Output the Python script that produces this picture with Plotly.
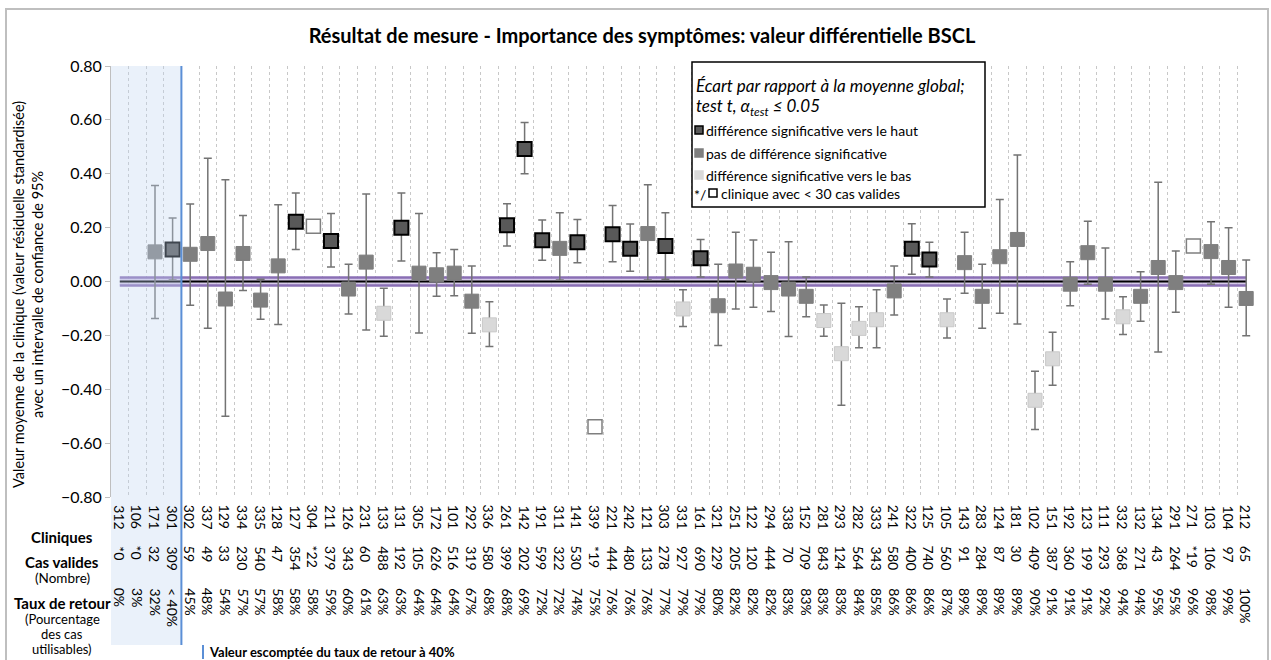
import plotly.graph_objects as go

# ---------------- data ----------------
clinics = ["312","106","171","301","302","337","129","334","335","128","127","304","211","126","231",
           "133","131","305","172","101","292","336","261","142","191","311","141","339","221","242",
           "121","303","331","161","321","251","122","294","338","152","281","293","282","333","241",
           "322","125","105","143","283","124","181","102","151","192","123","111","332","132","134",
           "291","271","103","104","212"]

cases = ["*0","*0","32","309","59","49","33","230","540","47","354","*22","379","343","60","488","192",
         "105","626","516","319","580","399","202","599","322","530","*19","444","480","133","278","927",
         "690","229","205","120","444","70","709","843","124","564","343","580","400","740","560","91",
         "284","87","30","409","387","360","199","293","368","271","43","264","*19","106","97","65"]

rates = ["0%","3%","32%","< 40%","45%","48%","54%","57%","57%","58%","58%","58%","59%","60%","61%",
         "63%","63%","64%","64%","64%","67%","68%","68%","69%","72%","72%","74%","75%","76%","76%",
         "76%","77%","79%","79%","80%","82%","82%","82%","83%","83%","83%","83%","84%","85%","86%",
         "86%","86%","87%","89%","89%","89%","89%","90%","91%","91%","91%","92%","94%","94%","95%",
         "95%","96%","98%","99%","100%"]

means = [None, None, 0.110, 0.119, 0.101, 0.141, -0.065, 0.104, -0.069, 0.058, 0.222, 0.205, 0.150,
         -0.028, 0.072, -0.118, 0.200, 0.031, 0.025, 0.031, -0.073, -0.161, 0.209, 0.492, 0.153,
         0.123, 0.146, -0.539, 0.175, 0.122, 0.178, 0.132, -0.102, 0.086, -0.090, 0.039, 0.027,
         -0.004, -0.028, -0.055, -0.145, -0.268, -0.174, -0.142, -0.035, 0.122, 0.082, -0.142,
         0.070, -0.055, 0.092, 0.156, -0.441, -0.287, -0.010, 0.107, -0.010, -0.131, -0.055,
         0.052, -0.004, 0.132, 0.111, 0.052, -0.063]

ci_upper = [None, None, 0.356, 0.236, 0.288, 0.458, 0.378, 0.245, 0.008, 0.285, 0.329, None, 0.252,
            0.064, 0.325, -0.025, 0.329, 0.252, 0.107, 0.119, 0.058, -0.075, 0.289, 0.590, 0.228,
            0.255, 0.230, None, 0.282, 0.213, 0.359, 0.255, -0.031, 0.156, 0.064, 0.183, 0.154,
            0.109, 0.148, 0.017, -0.087, -0.081, -0.094, -0.031, 0.058, 0.214, 0.146, -0.065,
            0.183, 0.064, 0.304, 0.470, -0.333, -0.188, 0.073, 0.224, 0.124, -0.057, 0.036,
            0.368, 0.113, None, 0.222, 0.200, 0.080]

ci_lower = [None, None, -0.137, 0.006, -0.088, -0.174, -0.500, -0.033, -0.140, -0.160, 0.119, None,
            0.054, -0.121, -0.180, -0.203, 0.076, -0.191, -0.055, -0.053, -0.192, -0.241, 0.132,
            0.400, 0.079, 0.006, 0.070, None, 0.073, 0.038, 0.006, 0.008, -0.167, 0.017, -0.238,
            -0.102, -0.096, -0.111, -0.204, -0.131, -0.203, -0.459, -0.246, -0.246, -0.124, 0.027,
            0.017, -0.210, -0.044, -0.174, -0.118, -0.158, -0.549, -0.385, -0.090, -0.010, -0.139,
            -0.197, -0.148, -0.262, -0.114, None, -0.010, -0.096, -0.201]

# H = significantly higher, N = not significant, B = significantly lower, P = < 30 valid cases, "" = none
status = ["", "", "N", "H", "N", "N", "N", "N", "N", "N", "H", "P", "H", "N", "N", "B", "H", "N", "N",
          "N", "N", "B", "H", "H", "H", "N", "H", "P", "H", "H", "N", "H", "B", "H", "N", "N", "N",
          "N", "N", "N", "B", "B", "B", "B", "N", "H", "H", "B", "N", "N", "N", "N", "B", "B", "N",
          "N", "N", "B", "N", "N", "N", "P", "N", "N", "N"]

overall_mean = 0.0
mean_band = 0.015
threshold_count = 4   # clinics left of the 40 % return-rate line

# ---------------- layout helpers ----------------
W, H = 1271, 660
L, R, T, B = 111, 16, 66, 163
PW, PH = W - L - R, H - T - B


def xp(px):
    return (px - L) / PW


def yp(py):
    return (H - B - py) / PH


FONT = "Lato"
n = len(clinics)
xs = list(range(n))

fig = go.Figure()

# band around overall mean
fig.add_trace(go.Scatter(x=[0, n - 1], y=[overall_mean - mean_band] * 2, mode="lines",
                         line=dict(color="#8a6fb5", width=2.5), hoverinfo="skip", showlegend=False))
fig.add_trace(go.Scatter(x=[0, n - 1], y=[overall_mean + mean_band] * 2, mode="lines",
                         line=dict(color="#8a6fb5", width=2.5), fill="tonexty",
                         fillcolor="rgba(205,190,228,0.8)", hoverinfo="skip", showlegend=False))
fig.add_trace(go.Scatter(x=[0, n - 1], y=[overall_mean] * 2, mode="lines",
                         line=dict(color="black", width=2), hoverinfo="skip", showlegend=False))

styles = {
    "H": dict(color="#595959", line=dict(color="black", width=2)),
    "N": dict(color="#7f7f7f", line=dict(color="#7f7f7f", width=1)),
    "B": dict(color="#d9d9d9", line=dict(color="#c9c9c9", width=1)),
    "P": dict(color="white", line=dict(color="#7f7f7f", width=1.5)),
}

for code, st in styles.items():
    gx, gy, up, dn = [], [], [], []
    for i in range(n):
        if status[i] != code or means[i] is None:
            continue
        gx.append(xs[i])
        gy.append(means[i])
        if ci_upper[i] is None:
            up.append(0)
            dn.append(0)
        else:
            up.append(ci_upper[i] - means[i])
            dn.append(means[i] - ci_lower[i])
    err = dict(type="data", symmetric=False, array=up, arrayminus=dn,
               color="#737373", thickness=1.5, width=4)
    if code == "P":
        err = dict(visible=False)
    fig.add_trace(go.Scatter(x=gx, y=gy, mode="markers",
                             marker=dict(symbol="square", size=14, **st),
                             error_y=err, showlegend=False))

shapes = []
annotations = []

# shaded region of clinics with return rate < 40 %
shapes.append(dict(type="rect", xref="x", yref="paper", x0=-0.5, x1=threshold_count - 0.5,
                   y0=yp(645), y1=1, fillcolor="rgba(190,212,240,0.33)", line=dict(width=0),
                   layer="above"))
shapes.append(dict(type="line", xref="x", yref="paper", x0=threshold_count - 0.5,
                   x1=threshold_count - 0.5, y0=yp(645), y1=1,
                   line=dict(color="#5b8fd6", width=2), layer="above"))

# outer frame
shapes.append(dict(type="rect", xref="paper", yref="paper", x0=xp(6), x1=xp(1268),
                   y0=yp(663), y1=yp(9), line=dict(color="#bfbfbf", width=2), layer="below"))

# legend box
shapes.append(dict(type="rect", xref="paper", yref="paper", x0=xp(692), x1=xp(985),
                   y0=yp(207), y1=yp(62), line=dict(color="black", width=1.5),
                   fillcolor="white", layer="above"))
LEG = 14
leg_items = [
    (130, "#595959", "black", "différence significative vers le haut"),
    (153, "#7f7f7f", "#7f7f7f", "pas de différence significative"),
    (175, "#d9d9d9", "#d9d9d9", "différence significative vers le bas"),
]
for py, fc, lc, txt in leg_items:
    shapes.append(dict(type="rect", xref="paper", yref="paper", x0=xp(695), x1=xp(703),
                       y0=yp(py + 4), y1=yp(py - 4), fillcolor=fc, line=dict(color=lc, width=1.5),
                       layer="above"))
    annotations.append(dict(xref="paper", yref="paper", x=xp(704), y=yp(py), text=txt,
                            xanchor="left", yanchor="middle", showarrow=False,
                            font=dict(family=FONT, size=LEG, color="black")))
shapes.append(dict(type="rect", xref="paper", yref="paper", x0=xp(709), x1=xp(717),
                   y0=yp(197), y1=yp(189), fillcolor="white", line=dict(color="black", width=1.5),
                   layer="above"))
annotations.append(dict(xref="paper", yref="paper", x=xp(692), y=yp(194), text="*/",
                        xanchor="left", yanchor="middle", showarrow=False,
                        font=dict(family=FONT, size=LEG, color="black")))
annotations.append(dict(xref="paper", yref="paper", x=xp(719), y=yp(193),
                        text="clinique avec < 30 cas valides",
                        xanchor="left", yanchor="middle", showarrow=False,
                        font=dict(family=FONT, size=LEG, color="black")))
annotations.append(dict(xref="paper", yref="paper", x=xp(694), y=yp(85),
                        text="<i>Écart par rapport à la moyenne global;</i>",
                        xanchor="left", yanchor="middle", showarrow=False,
                        font=dict(family=FONT, size=17, color="black")))
annotations.append(dict(xref="paper", yref="paper", x=xp(694), y=yp(107),
                        text="<i>test t, α<sub>test</sub> ≤ 0.05</i>",
                        xanchor="left", yanchor="middle", showarrow=False,
                        font=dict(family=FONT, size=17, color="black")))

# rows of category labels
TK = 14
for i in range(n):
    annotations.append(dict(xref="x", yref="paper", x=xs[i], y=yp(503), text=clinics[i],
                            textangle=90, xanchor="center", yanchor="top", showarrow=False,
                            font=dict(family=FONT, size=TK, color="black")))
    annotations.append(dict(xref="x", yref="paper", x=xs[i], y=yp(544), text=cases[i],
                            textangle=90, xanchor="center", yanchor="top", showarrow=False,
                            font=dict(family=FONT, size=TK, color="black")))
    annotations.append(dict(xref="x", yref="paper", x=xs[i], y=yp(586), text=rates[i],
                            textangle=90, xanchor="center", yanchor="top", showarrow=False,
                            font=dict(family=FONT, size=TK, color="black")))

row_labels = [
    (537, "<b>Cliniques</b>", 15),
    (562, "<b>Cas valides</b>", 15),
    (578, "(Nombre)", 13.5),
    (603, "<b>Taux de retour</b>", 15),
    (619, "(Pourcentage", 13),
    (634, "des cas", 13),
    (649, "utilisables)", 13),
]
for py, txt, fs in row_labels:
    annotations.append(dict(xref="paper", yref="paper", x=xp(62), y=yp(py), text=txt,
                            xanchor="center", yanchor="middle", showarrow=False, borderpad=0,
                            font=dict(family=FONT, size=fs, color="black")))

# threshold note
shapes.append(dict(type="line", xref="paper", yref="paper", x0=xp(203), x1=xp(203),
                   y0=yp(659), y1=yp(645), line=dict(color="#5b8fd6", width=2)))
annotations.append(dict(xref="paper", yref="paper", x=xp(207), y=yp(652),
                        text="<b>Valeur escomptée du taux de retour à 40%</b>",
                        xanchor="left", yanchor="middle", showarrow=False,
                        font=dict(family=FONT, size=13, color="black")))

# y axis title
annotations.append(dict(xref="paper", yref="paper", x=xp(28), y=yp(295),
                        text="Valeur moyenne de la clinique (valeur résiduelle standardisée)<br>"
                             "avec un intervalle de confiance de 95%",
                        textangle=-90, xanchor="center", yanchor="middle", showarrow=False,
                        font=dict(family=FONT, size=14.5, color="black")))

fig.update_layout(
    width=W, height=H,
    margin=dict(l=L, r=R, t=T, b=B),
    paper_bgcolor="white", plot_bgcolor="white",
    showlegend=False,
    title=dict(text="<b>Résultat de mesure - Importance des symptômes: valeur différentielle BSCL</b>",
               x=642 / W, xanchor="center", y=1 - 36 / H, yanchor="middle",
               font=dict(family=FONT, size=20, color="black")),
    xaxis=dict(range=[-0.5, n - 0.5], tick0=0.5, dtick=1, showticklabels=False, ticks="",
               showgrid=True, gridcolor="#c8c8c8", griddash="dot", gridwidth=1,
               zeroline=False, showline=False, fixedrange=True),
    yaxis=dict(range=[-0.8, 0.8], dtick=0.2, tick0=0, tickformat=".2f", showgrid=False,
               zeroline=False, showline=True, linecolor="#bfbfbf", linewidth=1,
               ticks="outside", ticklen=5, tickcolor="#bfbfbf",
               tickfont=dict(family=FONT, size=16, color="black"), fixedrange=True),
    shapes=shapes,
    annotations=annotations,
)

fig.write_html("out.html", config={"displayModeBar": False},
               post_script="document.body.style.margin='0px';document.body.style.overflow='hidden';")
